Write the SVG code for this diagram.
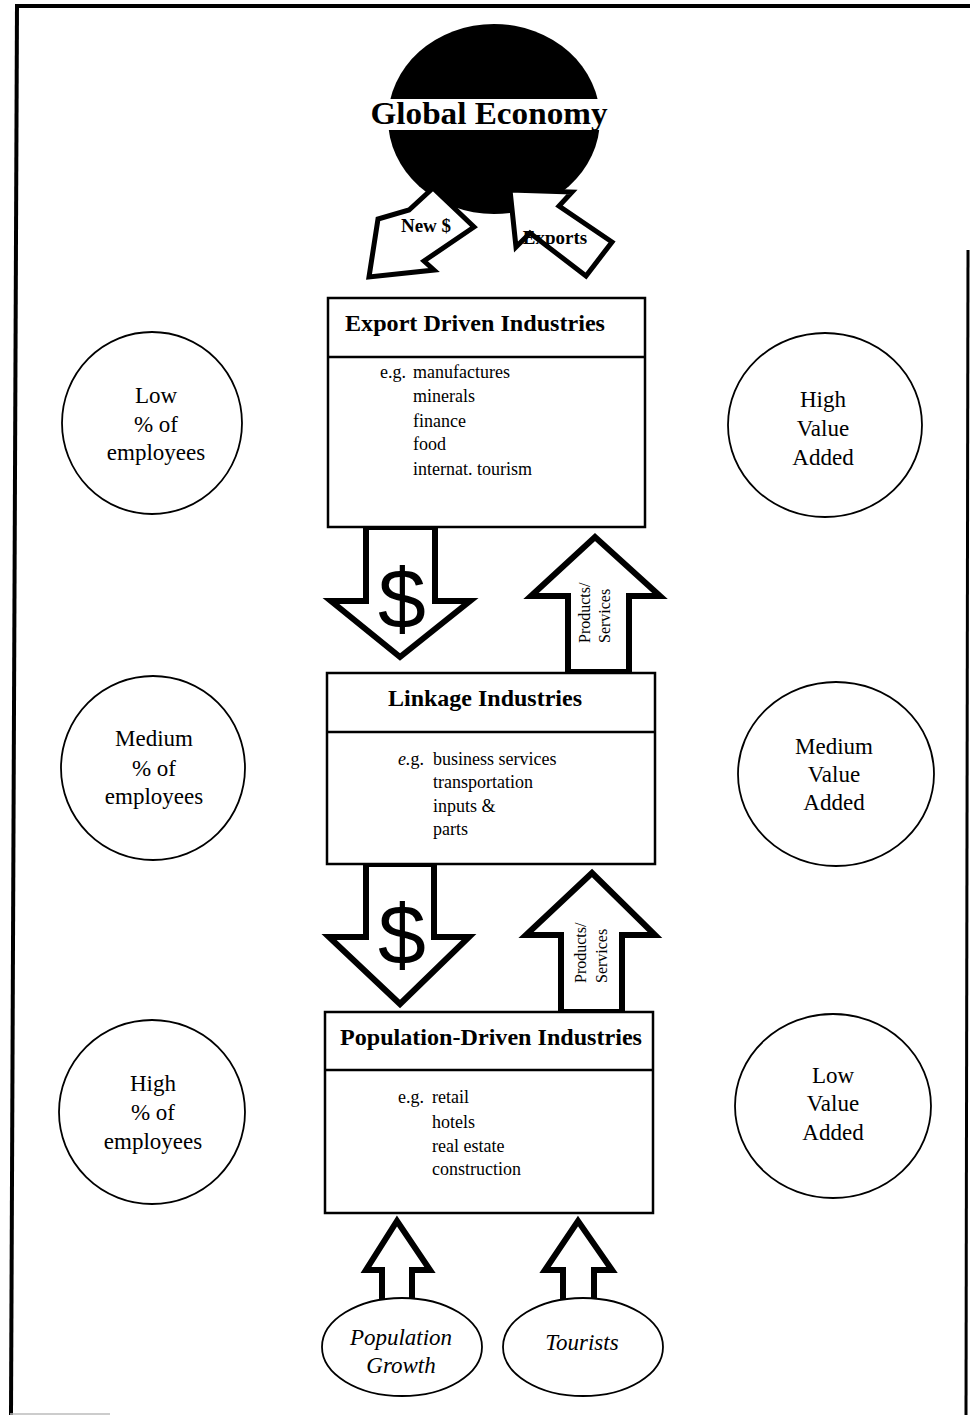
<svg xmlns="http://www.w3.org/2000/svg" width="970" height="1415" viewBox="0 0 970 1415">
<style>
.frame{fill:none;stroke:#000;stroke-width:4}
.box{fill:#fff;stroke:#000;stroke-width:2.5}
.div{stroke:#000;stroke-width:2.5}
.circ{fill:#fff;stroke:#000;stroke-width:1.8}
.arr{fill:#fff;stroke:#000;stroke-width:6;stroke-linejoin:miter;stroke-miterlimit:10}
.garr{fill:#fff;stroke:#000;stroke-width:5;stroke-linejoin:miter;stroke-miterlimit:10}
.title{font-family:"Liberation Serif","Times New Roman",serif;font-weight:bold;font-size:23px;fill:#000}
.body{font-family:"Liberation Serif","Times New Roman",serif;font-size:18px;fill:#000}
.side{font-family:"Liberation Serif","Times New Roman",serif;font-size:23px;fill:#000;text-anchor:middle}
.ital{font-family:"Liberation Serif","Times New Roman",serif;font-style:italic;font-size:23px;fill:#000;text-anchor:middle}
.alab{font-family:"Liberation Serif","Times New Roman",serif;font-weight:bold;font-size:19px;fill:#000;text-anchor:middle}
.vlab{font-family:"Liberation Serif","Times New Roman",serif;font-size:16px;fill:#000}
.dollar{font-family:"Liberation Sans",Arial,sans-serif;font-size:86px;fill:#000;text-anchor:middle}
</style>
<rect x="0" y="0" width="970" height="1415" fill="#fff"/>
<g id="frame">
<line class="frame" x1="15" y1="6" x2="970" y2="6"/>
<line class="frame" x1="17" y1="4" x2="11" y2="1415"/>
<line class="frame" x1="968" y1="250" x2="966" y2="1415" style="stroke-width:3"/>
<line x1="10" y1="1414" x2="110" y2="1414" stroke="#bbb" stroke-width="1.5"/>
</g>
<g id="global-economy">
<ellipse cx="494" cy="119" rx="106" ry="95" fill="#000"/>
<rect x="368" y="99" width="242" height="31" fill="#fff"/>
<text x="489" y="124" class="title" style="font-size:32px" text-anchor="middle" textLength="237" lengthAdjust="spacingAndGlyphs">Global Economy</text>
</g>
<g id="connectors">
<g id="arrow-new-dollar">
<polygon class="garr" points="433,188 409,210 378,219 369,277 434,270 424,261 474,227"/>
<text x="426" y="232" class="alab">New $</text>
</g>
<g id="arrow-exports">
<polygon class="garr" points="510,190 572,192 559,206 612,242 586,276 530,233 516,247"/>
<text x="555" y="244" class="alab">Exports</text>
</g>
<g id="arrow-dollar-1">
<polygon class="arr" points="366,527 435,527 435,601 470,601 400,657 331,601 366,601"/>
<text x="402" y="628" class="dollar">$</text>
</g>
<g id="arrow-products-1">
<polygon class="arr" points="568,672 568,596 531,596 595,537 660,596 629,596 629,672"/>
<text class="vlab" transform="translate(590,643) rotate(-90)">Products/</text>
<text class="vlab" transform="translate(610,643) rotate(-90)">Services</text>
</g>
<g id="arrow-dollar-2">
<polygon class="arr" points="366,864 434,864 434,937 469,937 400,1004 329,937 366,937"/>
<text x="402" y="964" class="dollar">$</text>
</g>
<g id="arrow-products-2">
<polygon class="arr" points="561,1012 561,935 526,935 592,873 655,935 622,935 622,1012"/>
<text class="vlab" transform="translate(586,983) rotate(-90)">Products/</text>
<text class="vlab" transform="translate(607,983) rotate(-90)">Services</text>
</g>
<g id="arrow-population">
<polygon class="arr" points="382,1302 382,1270 366,1270 397,1221 430,1270 412,1270 412,1302"/>
</g>
<g id="arrow-tourists">
<polygon class="arr" points="563,1302 563,1270 545,1270 578,1221 612,1270 594,1270 594,1302"/>
</g>
</g>
<g id="export-driven">
<rect class="box" x="328" y="298" width="317" height="229"/>
<line class="div" x1="328" y1="357" x2="645" y2="357"/>
<text x="475" y="331" class="title" text-anchor="middle" textLength="260" lengthAdjust="spacingAndGlyphs">Export Driven Industries</text>
<text x="380" y="378" class="body">e.g.</text>
<text x="413" y="378" class="body">manufactures</text>
<text x="413" y="402" class="body">minerals</text>
<text x="413" y="427" class="body">finance</text>
<text x="413" y="450" class="body">food</text>
<text x="413" y="475" class="body">internat. tourism</text>
</g>
<g id="linkage">
<rect class="box" x="327" y="673" width="328" height="191"/>
<line class="div" x1="327" y1="732" x2="655" y2="732"/>
<text x="485" y="706" class="title" text-anchor="middle" textLength="194" lengthAdjust="spacingAndGlyphs">Linkage Industries</text>
<text x="398" y="765" class="body"><tspan font-style="italic">e.</tspan>g.</text>
<text x="433" y="765" class="body">business services</text>
<text x="433" y="788" class="body">transportation</text>
<text x="433" y="812" class="body">inputs &amp;</text>
<text x="433" y="835" class="body">parts</text>
</g>
<g id="population-driven">
<rect class="box" x="325" y="1012" width="328" height="201"/>
<line class="div" x1="325" y1="1070" x2="653" y2="1070"/>
<text x="491" y="1045" class="title" text-anchor="middle" textLength="302" lengthAdjust="spacingAndGlyphs">Population-Driven Industries</text>
<text x="398" y="1103" class="body">e.g.</text>
<text x="432" y="1103" class="body">retail</text>
<text x="432" y="1128" class="body">hotels</text>
<text x="432" y="1152" class="body">real estate</text>
<text x="432" y="1175" class="body">construction</text>
</g>
<g id="low-employees">
<ellipse class="circ" cx="152" cy="423" rx="90" ry="91"/>
<text class="side" x="156" y="403">Low</text>
<text class="side" x="156" y="432">% of</text>
<text class="side" x="156" y="460">employees</text>
</g>
<g id="medium-employees">
<ellipse class="circ" cx="153" cy="768" rx="92" ry="92"/>
<text class="side" x="154" y="746">Medium</text>
<text class="side" x="154" y="776">% of</text>
<text class="side" x="154" y="804">employees</text>
</g>
<g id="high-employees">
<ellipse class="circ" cx="152" cy="1112" rx="93" ry="92"/>
<text class="side" x="153" y="1091">High</text>
<text class="side" x="153" y="1120">% of</text>
<text class="side" x="153" y="1149">employees</text>
</g>
<g id="high-value">
<ellipse class="circ" cx="825" cy="425" rx="97" ry="92"/>
<text class="side" x="823" y="407">High</text>
<text class="side" x="823" y="436">Value</text>
<text class="side" x="823" y="465">Added</text>
</g>
<g id="medium-value">
<ellipse class="circ" cx="836" cy="774" rx="98" ry="92"/>
<text class="side" x="834" y="754">Medium</text>
<text class="side" x="834" y="782">Value</text>
<text class="side" x="834" y="810">Added</text>
</g>
<g id="low-value">
<ellipse class="circ" cx="833" cy="1106" rx="98" ry="92"/>
<text class="side" x="833" y="1083">Low</text>
<text class="side" x="833" y="1111">Value</text>
<text class="side" x="833" y="1140">Added</text>
</g>
<g id="population-growth">
<ellipse class="circ" cx="402" cy="1347" rx="80" ry="49"/>
<text class="ital" x="401" y="1345">Population</text>
<text class="ital" x="401" y="1373">Growth</text>
</g>
<g id="tourists">
<ellipse class="circ" cx="583" cy="1347" rx="80" ry="49"/>
<text class="ital" x="582" y="1350">Tourists</text>
</g>
</svg>
